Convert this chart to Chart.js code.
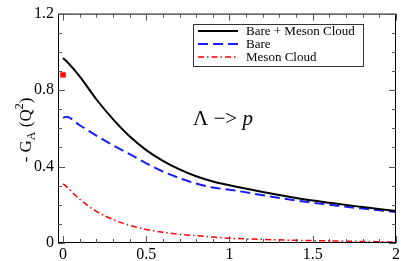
<!DOCTYPE html>
<html>
<head>
<meta charset="utf-8">
<script src="https://cdn.jsdelivr.net/npm/chart.js@4.4.0/dist/chart.umd.min.js"></script>
<style>
  html, body { margin: 0; padding: 0; background: #fff; }
  #wrap { width: 402px; height: 261px; }
</style>
</head>
<body>
<div id="wrap"><canvas id="gaChart" width="402" height="261"></canvas></div>
<script>
// Q^2 values (GeV^2)
var q2 = [0, 0.02, 0.1, 0.2, 0.3, 0.4, 0.5, 0.6, 0.7, 0.8, 0.9, 1.0, 1.2, 1.4, 1.6, 1.8, 2.0];
var total = [0.968, 0.952, 0.872, 0.752, 0.648, 0.558, 0.486, 0.43, 0.385, 0.349, 0.322, 0.302, 0.267, 0.235, 0.21, 0.188, 0.167];
var bare = [0.655, 0.66, 0.616, 0.562, 0.511, 0.465, 0.417, 0.374, 0.339, 0.311, 0.29, 0.279, 0.25, 0.222, 0.2, 0.18, 0.162];
var mesonCloud = [0.31, 0.295, 0.229, 0.166, 0.123, 0.092, 0.071, 0.056, 0.046, 0.038, 0.031, 0.025, 0.019, 0.014, 0.011, 0.008, 0.005];
var exptX = [0];
var exptY = [0.88];
var xTicks = [0, 0.5, 1, 1.5, 2];
var yTicks = [0, 0.4, 0.8, 1.2];
var labels = ['Bare + Meson Cloud', 'Bare', 'Meson Cloud'];

function pts(xs, ys) {
  return xs.map(function (x, i) { return { x: x, y: ys[i] }; });
}

var serif = '"Liberation Serif", "DejaVu Serif", serif';

var frameTicks = {
  id: 'frameTicks',
  afterDraw: function (chart) {
    var ctx = chart.ctx, a = chart.chartArea;
    var xs = chart.scales.x, ys = chart.scales.y;
    ctx.save();
    ctx.strokeStyle = '#000';
    ctx.lineWidth = 1;
    ctx.strokeRect(a.left + 0.5, a.top + 0.5, a.right - a.left - 1, a.bottom - a.top - 1);
    ctx.strokeStyle = '#555';
    // x ticks, bottom and top, inward
    for (var i = 0; i <= 20; i++) {
      var v = i / 10;
      var major = (i % 5 === 0);
      var len = major ? 7 : 4;
      var px = Math.round(xs.getPixelForValue(v)) + 0.5;
      ctx.beginPath();
      ctx.moveTo(px, a.bottom); ctx.lineTo(px, a.bottom - len);
      ctx.moveTo(px, a.top); ctx.lineTo(px, a.top + len);
      ctx.stroke();
    }
    // y ticks, left and right
    for (var j = 0; j <= 12; j++) {
      var vy = j / 10;
      var majorY = (j % 4 === 0);
      var leny = majorY ? 7 : 4;
      var py = Math.round(ys.getPixelForValue(vy)) + 0.5;
      ctx.beginPath();
      ctx.moveTo(a.left, py); ctx.lineTo(a.left + leny, py);
      ctx.moveTo(a.right, py); ctx.lineTo(a.right - leny, py);
      ctx.stroke();
    }

    // legend box
    ctx.strokeStyle = '#333';
    ctx.strokeRect(193.5, 24.5, 170, 42);
    var ds = chart.data.datasets;
    ctx.font = '13px ' + serif;
    ctx.textBaseline = 'middle';
    ctx.fillStyle = '#000';
    [31, 44, 57].forEach(function (yy, k) {
      var d = ds[k];
      ctx.save();
      ctx.strokeStyle = d.borderColor;
      ctx.lineWidth = d.borderWidth;
      ctx.setLineDash(d.borderDash || []);
      ctx.beginPath();
      ctx.moveTo(198, yy); ctx.lineTo(238, yy);
      ctx.stroke();
      ctx.restore();
      ctx.fillText(d.label, 246, yy + 1);
    });

    // reaction label
    ctx.textBaseline = 'alphabetic';
    ctx.font = '21px ' + serif;
    var t1 = 'Λ −> ';
    ctx.fillText(t1, 193, 125);
    var w1 = ctx.measureText(t1).width;
    ctx.font = 'italic 21px ' + serif;
    ctx.fillText('p', 193 + w1, 125);

    // y axis title: - G_A (Q^2)
    ctx.save();
    ctx.translate(31, 130);
    ctx.rotate(-Math.PI / 2);
    var parts = [
      { t: '- G', f: '17px ', dy: 0 },
      { t: 'A', f: '12px ', dy: 4 },
      { t: ' (Q', f: '17px ', dy: 0 },
      { t: '2', f: '12px ', dy: -8 },
      { t: ')', f: '17px ', dy: 0 }
    ];
    var tw = 0;
    parts.forEach(function (p) { ctx.font = p.f + serif; p.w = ctx.measureText(p.t).width; tw += p.w; });
    var cx = -tw / 2;
    parts.forEach(function (p) {
      ctx.font = p.f + serif;
      ctx.fillText(p.t, cx, p.dy);
      cx += p.w;
    });
    ctx.restore();
    ctx.restore();
  }
};

var ctx = document.getElementById('gaChart').getContext('2d');
var chart = new Chart(ctx, {
  type: 'scatter',
  data: {
    datasets: [
      {
        label: labels[0], data: pts(q2, total), showLine: true,
        borderColor: '#000', borderWidth: 2, pointRadius: 0,
        cubicInterpolationMode: 'monotone'
      },
      {
        label: labels[1], data: pts(q2, bare), showLine: true,
        borderColor: '#1a1aff', borderWidth: 2, borderDash: [10, 5], pointRadius: 0,
        cubicInterpolationMode: 'monotone'
      },
      {
        label: labels[2], data: pts(q2, mesonCloud), showLine: true,
        borderColor: '#ff0000', borderWidth: 1.5, borderDash: [6, 3, 1.5, 3], pointRadius: 0,
        cubicInterpolationMode: 'monotone'
      },
      {
        label: 'Expt', data: pts(exptX, exptY), showLine: false,
        pointStyle: 'rect', pointRadius: 3.5, backgroundColor: '#ff0000', borderColor: '#ff4040', borderWidth: 1
      }
    ]
  },
  options: {
    responsive: false,
    animation: false,
    layout: { padding: { top: 8, right: 6, left: 0, bottom: 0 } },
    plugins: { legend: { display: false }, tooltip: { enabled: false } },
    scales: {
      x: {
        type: 'linear', min: -0.03, max: 2,
        grid: { display: false, drawTicks: false },
        border: { display: false },
        afterBuildTicks: function (s) { s.ticks = xTicks.map(function (v) { return { value: v }; }); },
        afterFit: function (s) { s.height = 18; },
        ticks: {
          color: '#000', padding: 2, maxRotation: 0,
          font: { family: serif, size: 16 },
          callback: function (v) { return String(v); }
        }
      },
      y: {
        type: 'linear', min: 0, max: 1.2,
        grid: { display: false, drawTicks: false },
        border: { display: false },
        afterBuildTicks: function (s) { s.ticks = yTicks.map(function (v) { return { value: v }; }); },
        afterFit: function (s) { s.width = 58; },
        ticks: {
          color: '#000', padding: 4,
          font: { family: serif, size: 16 },
          callback: function (v) { return v === 0 ? '0' : v.toFixed(1); }
        }
      }
    }
  },
  plugins: [frameTicks]
});
</script>
</body>
</html>
